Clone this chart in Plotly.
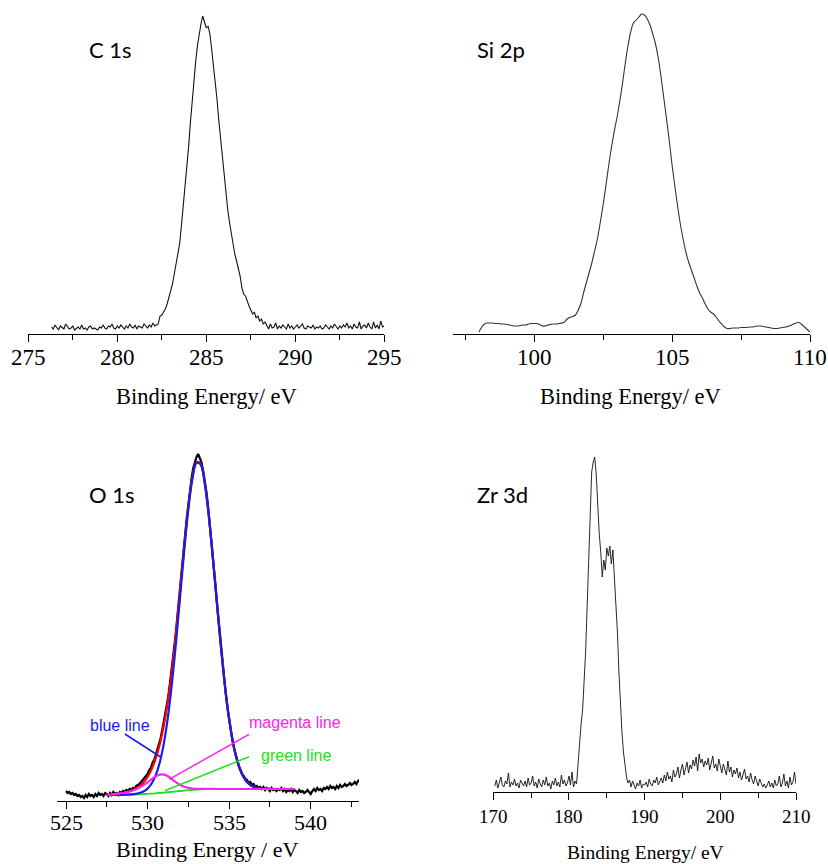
import plotly.graph_objects as go

W, H = 828, 864

# ---------------- data (intensity in arbitrary units) -------------
# C 1s spectrum: sampled every 0.1 eV from 276.3 eV
c1s_start, c1s_step = 276.3, 0.1
c1s_counts = [
    7, 5, 9, 6, 4, 8, 6, 5, 10, 7,
    5, 6, 8, 4, 6, 7, 5, 9, 5, 6,
    4, 7, 8, 5, 6, 5, 4, 7, 6, 9,
    6, 5, 8, 7, 10, 6, 5, 8, 6, 9,
    7, 5, 8, 6, 10, 7, 6, 9, 5, 8,
    7, 6, 10, 8, 6, 9, 7, 11, 8, 9,
    10, 18, 19, 22, 25, 30, 36, 42, 50, 60,
    70, 80, 90, 108, 127, 145, 162, 186, 210, 232,
    255, 272, 288, 300, 310, 318, 312, 306, 308, 300,
    285, 270, 254, 235, 214, 196, 180, 160, 140, 125,
    112, 101, 92, 80, 73, 66, 58, 46, 40, 38,
    32, 28, 24, 20, 22, 16, 18, 13, 15, 10,
    12,
    8, 5, 10, 6, 7, 11, 5, 8, 6, 9,
    7, 5, 10, 6, 8, 5, 7, 9, 6, 8,
    10, 6, 5, 8, 7, 6, 9, 5, 7, 6,
    8, 5, 6, 9, 7, 5, 8, 6, 10, 7,
    5, 8, 6, 9, 7, 11, 6, 8, 5, 10,
    7, 6, 12, 5, 8, 9, 6, 11, 7, 5,
    12, 6, 9, 5, 13, 7, 8,
]
c1s_ticks = [275, 280, 285, 290, 295]

# Si 2p spectrum: every 0.1 eV from 98.0 eV
si2p_start, si2p_step = 98.0, 0.1
si2p_counts = [
    2, 7, 10, 11, 11, 11, 10.5, 10.5, 10, 10,
    9.5, 9, 8.5, 8, 8, 8.5, 9, 9, 10, 10.5,
    10.5, 10.5, 9.5, 8, 8, 9, 9.5, 10, 10, 10.5,
    11, 12, 15, 16.5, 17.5, 19, 24, 31, 42, 52,
    62, 72, 84, 96, 112, 129, 148, 168, 186, 202,
    216, 232, 250, 270, 288, 302, 311, 314, 317, 320,
    319, 315, 309, 300, 290, 276, 257, 236, 215, 193,
    169, 148, 128, 110, 95, 82, 72, 64, 56, 48,
    41, 36, 30, 25, 22, 20, 17, 13, 10, 7,
    5.5, 5.5, 6, 6, 6, 6.5, 6.5, 6.5, 7, 7,
    7.5, 8, 8, 7.5, 7, 6.5, 6, 5.5, 5.5, 6,
    6.5, 7, 7.5, 8.5, 10, 11, 11.5, 9.5, 7, 4.5,
    2,
]
si2p_ticks = [100, 105, 110]

# O 1s measured spectrum: every 0.1 eV from 525.0 eV
o1s_start, o1s_step = 525.0, 0.1
o1s_counts = [
    10, 8, 9, 7, 8, 6, 7, 5, 6, 4,
    5, 3, 6, 4, 7, 5, 6, 4, 7, 5,
    8, 6, 7, 5, 8,
    7, 5, 8, 6, 9, 7, 8, 6, 9, 8,
    10, 9, 11, 10, 12, 11, 13, 12, 15, 16,
    17, 19, 21, 22, 25, 27, 31, 33, 38, 41,
    46, 51, 58, 63, 71, 79, 88, 98, 108, 121,
    133, 148, 163, 180, 196, 213, 231, 249, 266, 283,
    298, 311, 323, 333, 339, 344, 347, 343, 339, 331,
    322, 310, 296, 280, 264, 246, 228, 209, 190, 172,
    154, 137, 121, 106, 93, 81, 70, 61, 53, 46,
    40, 35, 31, 27, 25, 22, 21, 18, 19, 16,
    17, 14, 15, 13, 14, 12, 14, 11, 13, 12,
    10, 13, 11, 12, 10, 12, 11, 13, 10, 12,
    9, 11, 10, 12, 9, 11,
    10, 8, 11, 9, 10, 8, 9, 11, 9, 7,
    10, 12, 10, 13, 11, 12, 10, 13, 12, 14,
    12, 15, 13, 14, 12, 15, 13, 16, 14, 15,
    17, 15, 16, 18, 16, 17, 19, 17, 20, 21,
]
o1s_ticks = [525, 530, 535, 540]

# O 1s fit curves: every 0.25 eV from 527.5 eV to 539.0 eV
fit_start, fit_step = 527.5, 0.25
o1s_background = [  # green line
    6.0, 6.0, 6.0, 6.1, 6.2, 6.3, 6.4, 6.5, 6.7, 6.9,
    7.1, 7.4, 7.7, 8.0, 8.4, 8.8, 9.2, 9.6, 10.0, 10.4,
    10.8, 11.1, 11.4, 11.6, 11.8, 11.9, 12.0,
    12.0, 12.0, 12.0, 12.0, 12.0, 12.0, 12.0, 12.0, 12.0, 12.0,
    12.0, 12.0, 12.0, 12.0, 12.0, 12.0, 12.0, 12.0, 12.0, 12.0,
]
o1s_main_peak = [  # blue component above background
    0, 0, 0, 0, 0.04, 0.1, 0.24, 0.57, 1.27, 2.67,
    5.3, 10.1, 18.1, 30.8, 49.5, 75.6, 109.5, 150.2, 195.3, 240.7,
    281.1, 311.2, 326.6, 324.9, 306.3, 273.7, 231.8, 186.1, 141.6, 102.1,
    69.8, 45.2, 27.8, 16.2, 8.9, 4.7, 2.3, 1.1, 0.5, 0.2,
    0.1, 0, 0, 0, 0, 0, 0,
]
o1s_minor_peak = [  # magenta component above background
    0.3, 0.5, 0.8, 1.2, 1.8, 2.6, 3.6, 5.0, 6.8, 9.0,
    11.6, 14.4, 16.9, 18.3, 18.0, 16.0, 12.6, 9.0, 6.0, 3.8,
    2.3, 1.4, 0.8, 0.5, 0.3, 0.2, 0.1, 0, 0, 0,
    0, 0, 0, 0, 0, 0, 0, 0, 0, 0,
    0, 0, 0, 0, 0, 0, 0,
]

# Zr 3d spectrum: every 0.2 eV from 170.2 eV
zr3d_start, zr3d_step = 170.2, 0.2
zr3d_counts = [
    6, 12, 4, 9, 15, 7, 5, 11, 8, 19,
    5, 10, 7, 13, 6, 9, 4, 12, 8, 6,
    11, 5, 14, 7, 9, 16, 6, 10, 4, 13,
    8, 5, 12, 7, 15, 6, 9, 3, 11, 7,
    14, 6, 10, 5, 17, 8, 12, 6, 9, 16,
    7, 20, 5, 11,
    8, 30, 52, 68, 82, 110, 140, 185, 230, 280,
    320, 330, 335, 318, 285, 258, 240, 215, 232, 222,
    244, 236, 246, 228, 242, 215, 195, 160, 120, 85,
    60, 40, 25, 15, 9, 12,
    5, 11, 7, 3, 9, 6, 12, 4, 8, 7,
    10, 5, 13, 8, 6, 12, 9, 15, 7, 11,
    14, 9, 17, 11, 20, 13, 16, 10, 22, 15,
    18, 25, 14, 22, 28, 17, 24, 30, 19, 27,
    23, 32, 26, 35, 21, 38, 29, 33, 25, 31,
    27, 34, 22, 30, 36, 24, 28, 21, 33, 26,
    19, 28, 23, 17, 31, 20, 25, 15, 22, 18,
    24, 14, 20, 12, 17, 23, 13, 16, 10, 19,
    12, 8, 16, 10, 6, 13, 9, 5, 8, 4,
    7, 11, 5, 9, 4, 12, 6, 8, 16, 5,
    9, 18, 6, 11, 4, 15, 7, 10, 20, 8,
]
zr3d_ticks = [170, 180, 190, 200, 210]

panel_labels = ["C 1s", "Si 2p", "O 1s", "Zr 3d"]
axis_titles = ["Binding Energy/ eV", "Binding Energy/ eV", "Binding Energy / eV", "Binding Energy/ eV"]


def grid(start, step, values):
    return [round(start + step * i, 3) for i in range(len(values))]


c1s_x = grid(c1s_start, c1s_step, c1s_counts)
si2p_x = grid(si2p_start, si2p_step, si2p_counts)
o1s_x = grid(o1s_start, o1s_step, o1s_counts)
fit_x = grid(fit_start, fit_step, o1s_background)
zr3d_x = grid(zr3d_start, zr3d_step, zr3d_counts)

blue_line = [b + p for b, p in zip(o1s_background, o1s_main_peak)]
magenta_line = [b + p for b, p in zip(o1s_background, o1s_minor_peak)]
red_line = [b + p + q for b, p, q in zip(o1s_background, o1s_main_peak, o1s_minor_peak)]

# ---------------- figure -------------
fig = go.Figure()

fig.add_trace(go.Scatter(x=c1s_x, y=c1s_counts, mode="lines",
                         line=dict(color="#111111", width=1.1), xaxis="x", yaxis="y"))
fig.add_trace(go.Scatter(x=si2p_x, y=si2p_counts, mode="lines",
                         line=dict(color="#333333", width=1.1, shape="spline"), xaxis="x2", yaxis="y2"))
fig.add_trace(go.Scatter(x=o1s_x, y=o1s_counts, mode="lines",
                         line=dict(color="black", width=2.2), xaxis="x3", yaxis="y3"))
fig.add_trace(go.Scatter(x=fit_x, y=o1s_background, mode="lines",
                         line=dict(color="#22dd22", width=1.8, shape="spline"), xaxis="x3", yaxis="y3"))
fig.add_trace(go.Scatter(x=fit_x, y=red_line, mode="lines",
                         line=dict(color="#ff0000", width=2.2, shape="spline"), xaxis="x3", yaxis="y3"))
fig.add_trace(go.Scatter(x=fit_x, y=blue_line, mode="lines",
                         line=dict(color="#1a1aee", width=2.2, shape="spline"), xaxis="x3", yaxis="y3"))
fig.add_trace(go.Scatter(x=fit_x, y=magenta_line, mode="lines",
                         line=dict(color="#ff22ee", width=2.2, shape="spline"), xaxis="x3", yaxis="y3"))
fig.add_trace(go.Scatter(x=zr3d_x, y=zr3d_counts, mode="lines",
                         line=dict(color="#111111", width=0.9), xaxis="x4", yaxis="y4"))

serif = "Liberation Serif"
sans = "Liberation Sans"
label_font = "Lato"

# panel geometry in pixels: x from left to right, y from plot top to axis line
panels = [
    dict(px=(28.3, 384.3), py=(4, 334), rng=[275, 295], ticks=c1s_ticks, minor=2.5,
         fs=23, label_y=357),
    dict(px=(453.3, 810.0), py=(4, 334), rng=[97.07, 110], ticks=si2p_ticks, minor=2.5,
         fs=23, label_y=357),
    dict(px=(56.7, 359.0), py=(440, 801), rng=[524.43, 542.96], ticks=o1s_ticks, minor=2.5,
         fs=22, label_y=822.5),
    dict(px=(493.3, 796.0), py=(440, 792), rng=[170, 210], ticks=zr3d_ticks, minor=5,
         fs=19, label_y=816.5),
]

layout = dict(width=W, height=H, margin=dict(l=0, r=0, t=0, b=0, autoexpand=False),
              paper_bgcolor="white", plot_bgcolor="white", showlegend=False,
              font=dict(family=serif, color="black"))

for i, p in enumerate(panels):
    sfx = "" if i == 0 else str(i + 1)
    layout["xaxis" + sfx] = dict(
        domain=[p["px"][0] / W, p["px"][1] / W], range=p["rng"], anchor="y" + sfx,
        automargin=False,
        showline=True, linecolor="black", linewidth=1, mirror=False,
        showgrid=False, zeroline=False,
        ticks="outside", ticklen=7, tickwidth=1, tickcolor="black",
        tickmode="array", tickvals=p["ticks"], showticklabels=False,
        minor=dict(ticks="outside", ticklen=5, tickwidth=1, tickcolor="black",
                   dtick=p["minor"], tick0=0, showgrid=False),
    )
    ytop, yax = p["py"]
    layout["yaxis" + sfx] = dict(
        domain=[1 - yax / H, 1 - ytop / H], range=[0, yax - ytop], anchor="x" + sfx,
        visible=False, showgrid=False, zeroline=False, automargin=False,
    )

fig.update_layout(**layout)

# tick labels (serif) placed on each axis' own scale
for i, p in enumerate(panels):
    xref = "x" if i == 0 else "x" + str(i + 1)
    for t in p["ticks"]:
        fig.add_annotation(text=str(t), x=t, xref=xref, y=1 - p["label_y"] / H, yref="paper",
                           showarrow=False, xanchor="center", yanchor="middle",
                           font=dict(family=serif, size=p["fs"], color="black"))

# axis titles
title_pos = [(206, 397, 22.5), (630, 397, 22.5), (207, 849, 22), (645, 852, 19.5)]
for txt, (x, y, fs) in zip(axis_titles, title_pos):
    fig.add_annotation(text=txt, x=x / W, y=1 - y / H, xref="paper", yref="paper",
                       showarrow=False, xanchor="center", yanchor="middle",
                       font=dict(family=serif, size=fs, color="black"))

# panel labels
label_pos = [(86.7, 49), (475, 50), (86.7, 495), (475, 495)]
for txt, (x, y) in zip(panel_labels, label_pos):
    fig.add_annotation(text=txt, x=x / W, y=1 - y / H, xref="paper", yref="paper",
                       showarrow=False, xanchor="left", yanchor="middle",
                       font=dict(family=label_font, size=22, color="black"))

# O 1s legend-like labels with pointer lines
notes = [
    ("blue line", "#1a1aee", (120.3, 725.7), (528.61, 67, 530.8, 44)),
    ("magenta line", "#ff22ee", (294.5, 722.3), (536.22, 66.7, 531.33, 21.7)),
    ("green line", "#22dd22", (296.2, 755.0), (536.22, 44.3, 531.06, 10.3)),
]
for txt, col, (x, y), (x0, y0, x1, y1) in notes:
    fig.add_annotation(text=txt, x=x / W, y=1 - y / H, xref="paper", yref="paper",
                       showarrow=False, xanchor="center", yanchor="middle",
                       font=dict(family=sans, size=16, color=col))
    fig.add_shape(type="line", xref="x3", yref="y3", x0=x0, y0=y0, x1=x1, y1=y1,
                  line=dict(color=col, width=1.5))

fig.write_html("out.html")
